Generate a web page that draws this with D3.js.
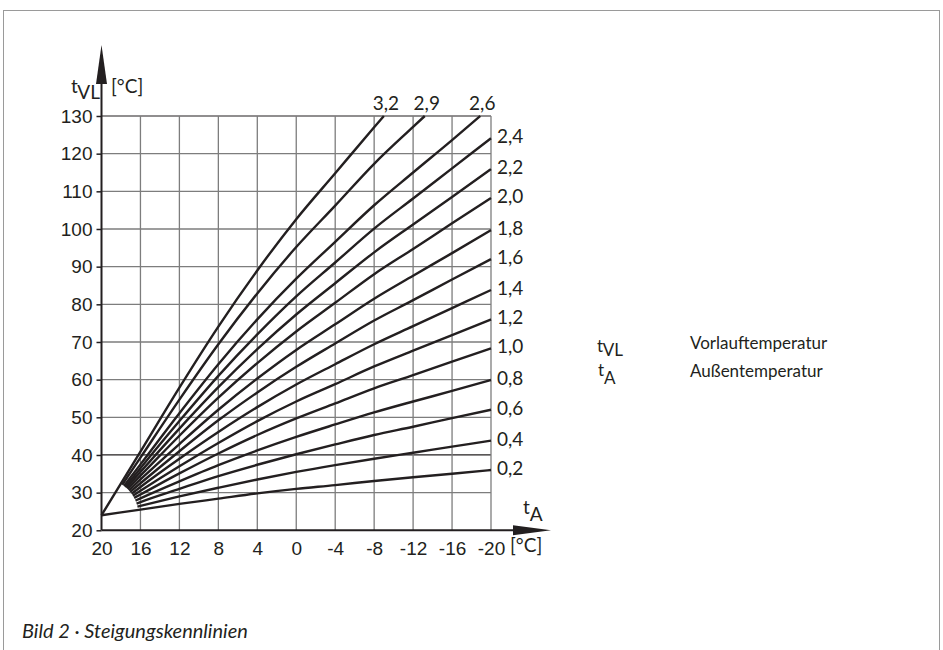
<!DOCTYPE html>
<html>
<head>
<meta charset="utf-8">
<script src="https://cdn.jsdelivr.net/npm/d3@7"></script>
<style>
  body { margin: 0; background: #fff; }
  svg { font-family: Lato, "Open Sans", sans-serif; fill: #231f20; }
  .curve { fill: none; stroke: #231f20; stroke-width: 2.4; stroke-linejoin: round; }
  .grid { stroke: #7d7d7d; stroke-width: 1.3; }
  .grid-dark { stroke: #231f20; stroke-width: 1.2; }
</style>
</head>
<body>
<svg id="chart" width="943" height="650"></svg>
<script>
// chart size
const width = 943;
const height = 650;
const labelSize = 19;

// axis ticks
const yTicks = [20, 30, 40, 50, 60, 70, 80, 90, 100, 110, 120, 130];
const xTicks = [20, 16, 12, 8, 4, 0, -4, -8, -12, -16, -20];

// slope labels, lowest curve first
const slopeLabels = ['0,2', '0,4', '0,6', '0,8', '1,0', '1,2', '1,4', '1,6', '1,8', '2,0', '2,2', '2,4', '2,6', '2,9', '3,2'];

// outside temperatures where the curves are read
const outsideTemps = [16, 12, 8, 4, 0, -4, -8, -12, -16, -20];

// first point of every curve [tA, tVL]
const curveStarts = [
  [20, 24.0], [16.31, 26.3], [16.4, 27.1], [16.51, 27.9], [16.65, 28.6],
  [16.78, 29.2], [16.91, 29.7], [17.06, 30.2], [17.19, 30.6], [17.33, 31.0],
  [17.45, 31.3], [17.57, 31.5], [17.68, 31.8], [17.87, 32.1], [20, 24.0]
];

// flow temperatures read at outsideTemps (null = above 130)
const flowTemps = [
  [25.5, 27.0, 28.4, 29.8, 31.0, 32.0, 33.1, 34.1, 35.0, 36.0],
  [26.5, 29.0, 31.3, 33.5, 35.5, 37.3, 39.0, 40.6, 42.2, 43.8],
  [27.5, 31.0, 34.4, 37.4, 40.2, 42.8, 45.3, 47.5, 49.8, 52.0],
  [28.5, 33.0, 37.3, 41.2, 44.8, 48.1, 51.3, 54.2, 57.0, 59.9],
  [29.5, 35.1, 40.4, 45.3, 49.7, 53.7, 57.7, 61.2, 64.8, 68.3],
  [30.5, 37.0, 43.2, 49.0, 54.2, 58.8, 63.5, 67.7, 71.8, 76.0],
  [31.5, 39.0, 46.1, 52.7, 58.7, 64.1, 69.4, 74.2, 79.0, 83.8],
  [32.5, 41.0, 49.2, 56.6, 63.4, 69.6, 75.7, 81.1, 86.6, 92.0],
  [33.5, 42.9, 52.0, 60.3, 67.9, 74.7, 81.5, 87.6, 93.6, 99.7],
  [34.5, 45.1, 55.2, 64.4, 72.8, 80.4, 88.0, 94.7, 101.5, 108.2],
  [35.5, 47.0, 58.0, 68.1, 77.3, 85.6, 93.8, 101.2, 108.5, 115.9],
  [36.5, 49.0, 61.0, 72.0, 82.1, 91.1, 100.1, 108.1, 116.1, 124.1],
  [37.5, 51.1, 64.1, 76.0, 86.8, 96.6, 106.3, 115.0, 123.6, null],
  [39.3, 54.7, 69.4, 82.9, 95.2, 106.2, 117.3, 127.1, null, null],
  [40.9, 57.9, 74.1, 89.0, 102.6, 114.8, 127.0, null, null, null]
];

// where the steep curves leave the chart at the top
const curveEnds = [null, null, null, null, null, null, null, null, null, null, null, null,
  [-18.9, 130], [-13.2, 130], [-9.0, 130]];

const svg = d3.select('#chart');

const x = d3.scaleLinear().domain([20, -20]).range([101.5, 491]);
const y = d3.scaleLinear().domain([20, 130]).range([530.3, 116]);

drawFrame();
drawGrid();
drawAxes();
drawCurves();
drawLegend();

function drawFrame() {
  svg.append('rect')
     .attr('x', 3.5).attr('y', 10.5)
     .attr('width', 936).attr('height', 700)
     .attr('fill', 'none')
     .attr('stroke', '#9a9a9a')
     .attr('stroke-width', 1);

  svg.append('text')
     .attr('x', 22).attr('y', 638)
     .attr('font-size', 20)
     .attr('font-style', 'italic')
     .text('Bild 2 · Steigungskennlinien');
}

function drawGrid() {
  const g = svg.append('g').attr('id', 'grid');

  g.selectAll('.h')
   .data(yTicks.filter(d => d > 20))
   .enter().append('line')
   .attr('class', d => (d === 130 || d === 40) ? 'grid-dark' : 'grid')
   .attr('x1', x(20)).attr('x2', x(-20))
   .attr('y1', d => y(d)).attr('y2', d => y(d));

  g.selectAll('.v')
   .data(xTicks.filter(d => d < 20))
   .enter().append('line')
   .attr('class', 'grid')
   .attr('x1', d => x(d)).attr('x2', d => x(d))
   .attr('y1', y(130)).attr('y2', y(20));
}

function drawAxes() {
  const yAxis = d3.axisLeft(y).tickValues(yTicks).tickSize(5).tickSizeOuter(0);
  // plain hyphen for negative values, like the original print
  const xAxis = d3.axisBottom(x).tickValues(xTicks).tickSize(0).tickPadding(11)
                  .tickSizeOuter(0).tickFormat(d => String(d));

  const yg = svg.append('g').attr('transform', translate(x(20), 0)).call(yAxis);
  yg.select('.domain').remove();
  yg.selectAll('line').attr('stroke', '#231f20').attr('stroke-width', 1.5);
  yg.selectAll('text').attr('font-size', labelSize)
    .attr('fill', '#231f20').attr('dx', -1).attr('font-family', null);

  const xg = svg.append('g').attr('transform', translate(0, y(20))).call(xAxis);
  xg.select('.domain').remove();
  xg.selectAll('text').attr('font-size', labelSize)
    .attr('fill', '#231f20').attr('font-family', null);

  // axis lines with arrows
  svg.append('line')
     .attr('x1', x(20)).attr('x2', x(20))
     .attr('y1', y(20)).attr('y2', 80)
     .attr('stroke', '#231f20').attr('stroke-width', 2);
  svg.append('path')
     .attr('d', 'M' + (x(20) - 5.5) + ',84 L' + x(20) + ',45 L' + (x(20) + 5.5) + ',84 Z')
     .attr('fill', '#231f20');

  svg.append('line')
     .attr('x1', x(20)).attr('x2', 516)
     .attr('y1', y(20)).attr('y2', y(20))
     .attr('stroke', '#231f20').attr('stroke-width', 2);
  svg.append('path')
     .attr('d', 'M513,' + (y(20) - 5) + ' L551,' + y(20) + ' L513,' + (y(20) + 5) + ' Z')
     .attr('fill', '#231f20');

  // axis titles
  subscriptLabel(71, 93, 't', 'VL', labelSize, 6);
  svg.append('text').attr('x', 111).attr('y', 93).attr('font-size', labelSize).text('[°C]');

  subscriptLabel(523, 514, 't', 'A', labelSize, 7);
  svg.append('text').attr('x', 510).attr('y', y(20) + 22).attr('font-size', labelSize).text('[°C]');
}

function drawCurves() {
  const line = d3.line()
                 .x(d => x(d[0]))
                 .y(d => y(d[1]))
                 .curve(d3.curveMonotoneX);

  const curves = flowTemps.map((row, i) => {
    const start = curveStarts[i];
    const pts = [start];
    outsideTemps.forEach((t, j) => {
      if (t < start[0] && row[j] !== null) pts.push([t, row[j]]);
    });
    if (curveEnds[i]) pts.push(curveEnds[i]);
    return pts;
  });

  const g = svg.append('g').attr('id', 'curves');
  g.selectAll('path')
   .data(curves)
   .enter().append('path')
   .attr('class', 'curve')
   .attr('d', line);

  // labels at the end of each curve
  g.selectAll('text')
   .data(curves)
   .enter().append('text')
   .attr('font-size', labelSize)
   .attr('text-anchor', (d, i) => curveEnds[i] ? 'middle' : 'start')
   .attr('x', d => {
     const last = d[d.length - 1];
     return last[1] >= 130 ? x(last[0]) + 2 : x(last[0]) + 6;
   })
   .attr('y', d => {
     const last = d[d.length - 1];
     return last[1] >= 130 ? y(130) - 6 : y(last[1]) + 5;
   })
   .text((d, i) => slopeLabels[i]);
}

function drawLegend() {
  subscriptLabel(597, 352, 't', 'VL', 17, 4);
  svg.append('text').attr('x', 690).attr('y', 349).attr('font-size', 17).text('Vorlauftemperatur');
  subscriptLabel(598, 376, 't', 'A', 17, 8);
  svg.append('text').attr('x', 690).attr('y', 377).attr('font-size', 17).text('Außentemperatur');
}

/*
 * letter with a lowered subscript
 */
function subscriptLabel(px, py, main, sub, size, drop) {
  const t = svg.append('text').attr('x', px).attr('y', py).attr('font-size', size);
  t.append('tspan').text(main);
  t.append('tspan').attr('dy', drop).text(sub);
}

function translate(a, b) {
  return 'translate(' + String(a) + ',' + String(b) + ')';
}
</script>
</body>
</html>
